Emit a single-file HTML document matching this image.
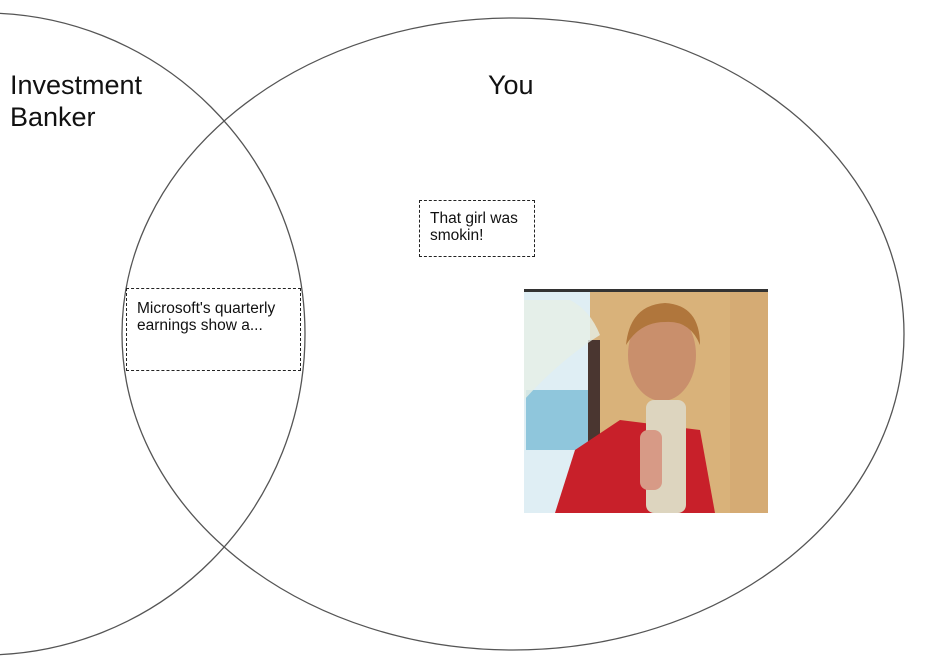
<!DOCTYPE html>
<html><head><style>
html,body{margin:0;padding:0;background:#fff;}
body{width:927px;height:672px;position:relative;overflow:hidden;font-family:"Liberation Sans",sans-serif;}
.lbl{position:absolute;font-size:27px;color:#111;line-height:32px;}
.box{position:absolute;border:1px dashed #222;font-size:15.5px;line-height:17px;color:#111;box-sizing:border-box;padding:11px 10px;}
</style></head><body>
<svg width="927" height="672" style="position:absolute;left:0;top:0">
<circle cx="-16" cy="334" r="321" fill="none" stroke="#555" stroke-width="1.3"/>
<ellipse cx="513" cy="334" rx="391" ry="316" fill="none" stroke="#555" stroke-width="1.3"/>
<g>
<rect x="524" y="289" width="244" height="224" fill="#d8b27c"/>
<rect x="524" y="292" width="66" height="221" fill="#dfeef4"/>
<rect x="526" y="390" width="62" height="60" fill="#8fc6dc"/>
<rect x="588" y="340" width="12" height="173" fill="#4a3630"/>
<path d="M524 400 Q560 360 600 335 Q590 310 570 300 L524 300 Z" fill="#e6efe6" opacity="0.8"/>
<rect x="600" y="292" width="168" height="221" fill="#d9b27a"/>
<rect x="730" y="292" width="38" height="221" fill="#d5ab74"/>
<path d="M555 513 L575 450 L620 420 L700 430 L715 513 Z" fill="#c8202a"/>
<ellipse cx="662" cy="355" rx="34" ry="46" fill="#c98f6c"/>
<path d="M626 345 Q630 305 665 303 Q700 305 700 345 Q690 320 665 322 Q640 322 626 345 Z" fill="#b0763c"/>
<rect x="646" y="400" width="40" height="113" rx="8" fill="#ddd5bf"/>
<rect x="640" y="430" width="22" height="60" rx="8" fill="#d79a86"/>
<rect x="524" y="289" width="244" height="3" fill="#333"/>
</g>
</svg>
<div class="lbl" style="left:10px;top:69px">Investment<br>Banker</div>
<div class="lbl" style="left:488px;top:69px">You</div>
<div class="box" style="left:419px;top:200px;width:116px;height:57px;padding-top:9px">That girl was smokin!</div>
<div class="box" style="left:126px;top:288px;width:175px;height:83px">Microsoft's quarterly earnings show a...</div>
</body></html>
